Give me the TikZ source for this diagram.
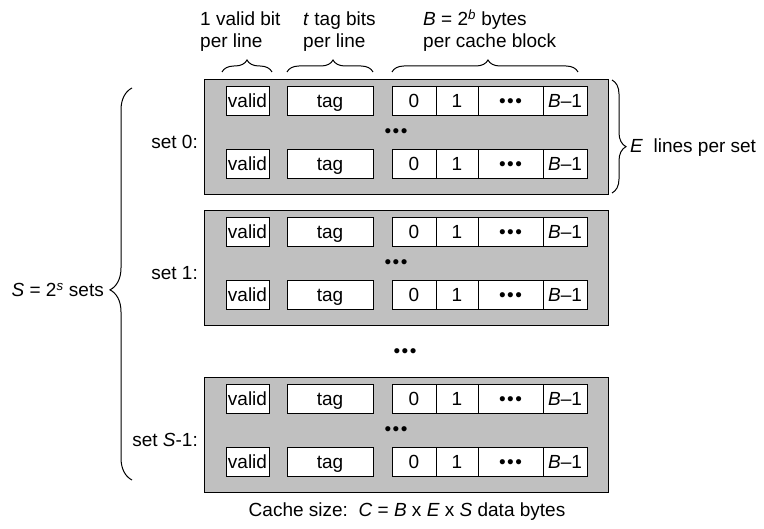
\documentclass[tikz,border=0pt]{standalone}
\usepackage{fontspec}
\setmainfont{Liberation Sans}
\usetikzlibrary{decorations.pathreplacing}
\definecolor{setgray}{RGB}{192,192,192}
\newcommand{\bdots}{•\hspace{1.5pt}•\hspace{1.5pt}•}

\tikzstyle{every node}=[font=\fontsize{19}{22}\selectfont, inner sep=0pt]
\tikzstyle{setbox}=[draw, line width=1pt, fill=setgray, anchor=north west, minimum width=404pt, minimum height=115pt]
\tikzstyle{cell}=[draw, line width=1pt, fill=white, minimum height=29pt, text height=13.6pt, text depth=0pt]
\tikzstyle{brc}=[line width=1pt, decorate]

\begin{document}
\begin{tikzpicture}[x=1pt, y=-1pt]
    \useasboundingbox (0,0) rectangle (764,529);
    \foreach \s/\y/\lab in {0/79/{set 0:}, 1/210/{set 1:}, 2/377/{set \textit{S}-1:}} {
        \node [setbox] (set\s) at (204,\y) {};
        \node [anchor=base east] (name\s) at (198,\y+70) {\lab};
        \node (dots\s) at (396,\y+54) {\bdots};
        \foreach \r/\dy in {1/22, 2/85} {
            \node [cell, minimum width=43pt] (valid\s\r) at (247.5,\y+\dy) {valid};
            \node [cell, minimum width=86pt] (tag\s\r) at (330,\y+\dy) {tag};
            \node [cell, minimum width=44pt] (bytezero\s\r) at (414,\y+\dy) {0};
            \node [cell, minimum width=42pt] (byteone\s\r) at (457,\y+\dy) {1};
            \node [cell, minimum width=65pt] (bytedots\s\r) at (510.5,\y+\dy) {\bdots};
            \node [cell, minimum width=44pt] (bytelast\s\r) at (565,\y+\dy) {\textit{B}--1};
        }
    }
    \node (gapdots) at (405,353) {\bdots};

    \draw [brc, decoration={brace, amplitude=12pt}] (222,72) -- (272,72);
    \draw [brc, decoration={brace, amplitude=12pt, aspect=0.535}] (287,72) -- (373,72);
    \draw [brc, decoration={brace, amplitude=12pt, aspect=0.516}] (392,72) -- (578,72);
    \draw [brc, decoration={brace, amplitude=14pt, aspect=0.59}] (612,80) -- (612,193);
    \draw [brc, decoration={brace, amplitude=22pt, aspect=0.485}] (132,480) -- (132,88);

    \node [anchor=base west, align=left] (validlbl) at (200,48) {1 valid bit\\per line};
    \node [anchor=base west, align=left] (taglbl) at (303,48) {\textit{t} tag bits\\per line};
    \node [anchor=base west, align=left] (blocklbl) at (423,48) {\textit{B} = 2\textsuperscript{\textit{b}} bytes\\per cache block};
    \node [anchor=base west] (linelbl) at (630,153) {\textit{E}~~lines per set};
    \node [anchor=base east] (setslbl) at (104,297) {\textit{S} = 2\textsuperscript{\textit{s}} sets};
    \node [anchor=base] (sizelbl) at (407,517) {Cache size:~~\textit{C} = \textit{B} x \textit{E} x \textit{S} data bytes};
\end{tikzpicture}
\end{document}
